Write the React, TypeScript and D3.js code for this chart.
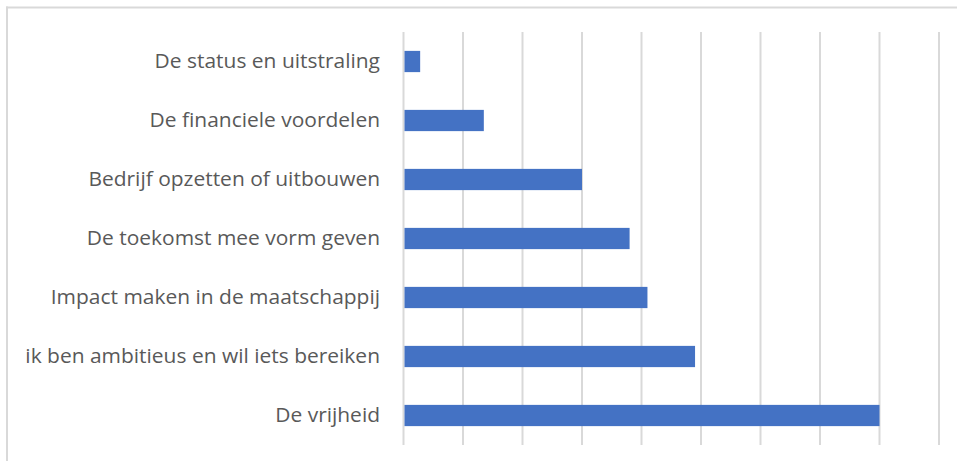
import React from "react";
import * as d3 from "d3";

const categories = [
  "De status en uitstraling",
  "De financiele voordelen",
  "Bedrijf opzetten of uitbouwen",
  "De toekomst mee vorm geven",
  "Impact maken in de maatschappij",
  "ik ben ambitieus en wil iets bereiken",
  "De vrijheid",
];
const values = [0.28, 1.35, 3.0, 3.8, 4.1, 4.9, 8.0];
const gridTicks = [0, 1, 2, 3, 4, 5, 6, 7, 8, 9];

const W = 957;
const H = 461;

export default function App() {
  const x = d3.scaleLinear().domain([0, 9]).range([403.5, 939]);
  const y = d3
    .scaleBand<string>()
    .domain(categories)
    .range([32, 445])
    .paddingInner(0.64)
    .paddingOuter(0.32);

  return (
    <svg
      width={W}
      height={H}
      style={{ position: "absolute", left: 0, top: 0, background: "#ffffff" }}
    >
      <rect x={0} y={0} width={W} height={H} fill="#ffffff" />
      {/* outer chart border (only top & left visible) */}
      <line x1={6} x2={W} y1={7.5} y2={7.5} stroke="#d9d9d9" strokeWidth={2} />
      <line x1={7} x2={7} y1={6.5} y2={H} stroke="#d9d9d9" strokeWidth={2} />
      {gridTicks.map((t) => (
        <line
          key={t}
          x1={x(t)}
          x2={x(t)}
          y1={32}
          y2={445}
          stroke="#d9d9d9"
          strokeWidth={2}
        />
      ))}
      {categories.map((c, i) => (
        <rect
          key={c}
          x={x(0) + 1}
          y={y(c)!}
          width={x(values[i]) - x(0) - 1}
          height={y.bandwidth()}
          fill="#4472c4"
        />
      ))}
      {categories.map((c) => (
        <text
          key={c}
          transform={`translate(380,${y(c)! + y.bandwidth() / 2}) scale(1.075,1)`}
          dy="0.35em"
          textAnchor="end"
          fontFamily="'Open Sans', sans-serif"
          fontSize={19.5}
          fill="#595959"
        >
          {c}
        </text>
      ))}
    </svg>
  );
}
